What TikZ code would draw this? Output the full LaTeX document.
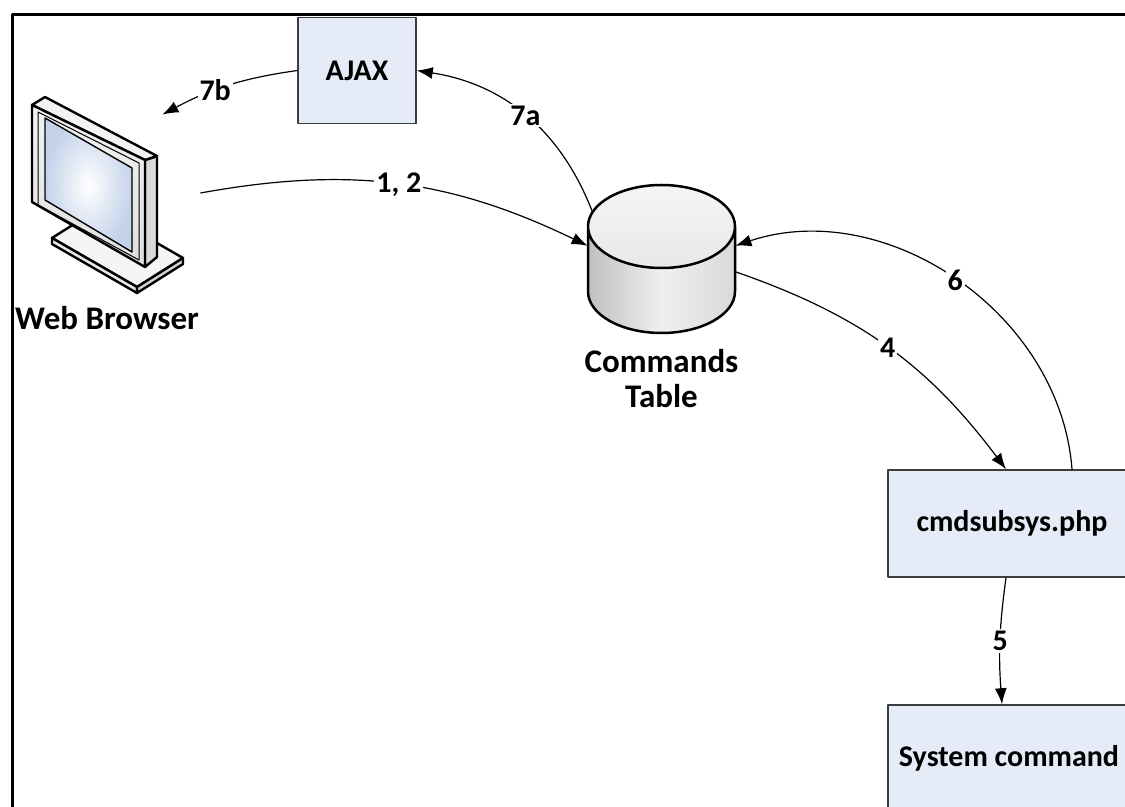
\documentclass[tikz,border=0pt]{standalone}
\usepackage{fontspec}
\setmainfont{Carlito}
\usepackage{pgf,tikz}
\usetikzlibrary{arrows,arrows.meta}
\usetikzlibrary{shapes,calc,positioning}
\definecolor{boxfill}{RGB}{229,236,247}
\definecolor{boxline}{RGB}{60,60,60}
\definecolor{screen}{RGB}{196,210,234}
\newcommand{\diafont}{\fontsize{15}{17.5}\selectfont\bfseries}
\newcommand{\iconfont}{\fontsize{16.5}{17.5}\selectfont\bfseries}

\begin{document}
\begin{tikzpicture}[x=0.5pt, y=0.5pt,
  arr/.style={line width=0.6pt, -{Latex[length=8pt,width=6pt]}},
  line join=round]
    \tikzstyle{box}=[draw=boxline, fill=boxfill, line width=0.75pt, font=\diafont, inner sep=0pt]
    \tikzstyle{num}=[fill=white, inner sep=1pt, font=\diafont]
    \tikzstyle{hold}=[inner sep=0pt, draw=none]

  \useasboundingbox (0,0) rectangle (1125,-807);
  \clip (0,0) rectangle (1125,-807);
  \draw[line width=1.5pt] (12,-820) -- (12,-15) -- (1140,-15);

  % web browser
  \node[hold, minimum width=93pt, minimum height=100pt] (web) at (107,-193) {};
  \begin{scope}[line width=1.2pt]
    \filldraw[fill=gray!8] (52,-238) -- (98,-209) -- (183,-258) -- (137,-287) -- cycle;
    \filldraw[fill=gray!18] (52,-238) -- (137,-287) -- (137,-293) -- (52,-244) -- cycle;
    \filldraw[fill=gray!35] (137,-287) -- (183,-258) -- (183,-264) -- (137,-293) -- cycle;
    \filldraw[fill=gray!30] (145,-160) -- (157,-156) -- (157,-257) -- (145,-267) -- cycle;
    \filldraw[fill=gray!10] (32,-105) -- (45,-97) -- (157,-156) -- (145,-160) -- cycle;
    \filldraw[top color=gray!10, bottom color=gray!25] (32,-105) -- (145,-160) -- (145,-267) -- (32,-202) -- cycle;
    \draw[line width=0.5pt] (38,-112) -- (139,-163) -- (139,-260) -- (38,-205) -- cycle;
    \filldraw[inner color=white, outer color=screen, line width=0.7pt] (45,-118) -- (132,-168) -- (132,-252) -- (45,-200) -- cycle;
  \end{scope}
  \node[below=3pt of web, font=\iconfont] (weblbl) {Web Browser};

  % commands table
  \node[hold, minimum width=73.5pt, minimum height=73.75pt] (tab) at (661.5,-258.75) {};
  \shade[left color=gray!50, right color=gray!30, middle color=gray!12]
    (588,-226.5) -- (588,-291.5) arc[start angle=180, end angle=360, x radius=73.5, y radius=41.5] -- (735,-226.5) -- cycle;
  \shade[top color=gray!8, bottom color=gray!18]
    (661.5,-226.5) ellipse[x radius=73.5, y radius=41.5];
  \draw[line width=1.25pt] (588,-226.5) -- (588,-291.5) arc[start angle=180, end angle=360, x radius=73.5, y radius=41.5] -- (735,-226.5)
    (661.5,-226.5) ellipse[x radius=73.5, y radius=41.5];
  \node[below=4.5pt of tab, align=center, font=\iconfont] (tablbl) {Commands\\Table};

  \node[box, minimum width=59pt, minimum height=53pt] (ajax) at (357,-70.5) {AJAX};
  \node[box, minimum width=130pt, minimum height=53.5pt] (cmd) at (1018,-523.5) {\hspace*{-6pt}cmdsubsys.php};
  \node[box, minimum width=130pt, minimum height=53.5pt] (sys) at (1018,-758.5) {\hspace*{-9pt}System command};

  \draw[arr] (web.east) to[bend left=18] node[num] {1, 2} (tab.170);
  \draw[arr] ([shift={(-69,46.7)}]tab.center) to[bend right=30] node[num] {7a} (ajax.east);
  \draw[arr] (ajax.west) to[bend right=10] node[num, pos=0.6] {7b} ([shift={(-38,-22)}]web.north east);
  \draw[arr] (tab.-10) to[bend left=17] node[num] {4} ([xshift=-6]cmd.north);
  \draw[arr] ([xshift=27]cmd.north) to[bend right=52] node[num] {6} (tab.10);
  \draw[arr] ([xshift=-6]cmd.south) to[bend right=6] node[num] {5} ([xshift=-8]sys.north);

\end{tikzpicture}
\end{document}
